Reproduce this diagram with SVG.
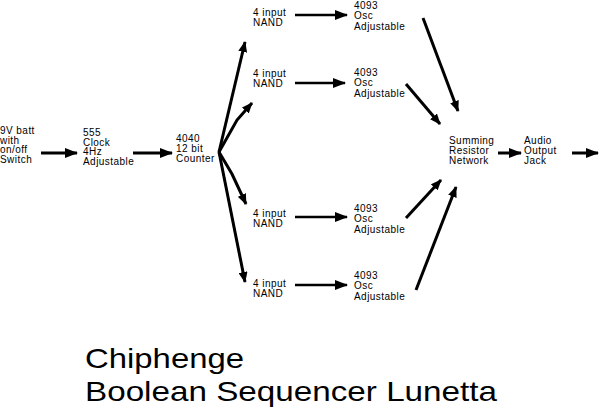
<svg xmlns="http://www.w3.org/2000/svg" width="600" height="414" viewBox="0 0 600 414">
<style>
text{font-family:"Liberation Sans",Arial,sans-serif;font-size:10px;letter-spacing:0.45px;fill:#000}
.t{font-size:28px;letter-spacing:0}
.c{stroke:#000;fill:none;stroke-width:3}
.n{stroke-width:2.5}
</style>
<defs>
<marker id="ah" markerUnits="userSpaceOnUse" markerWidth="13" markerHeight="10" refX="12" refY="5" orient="auto"><path d="M0,0 L13,5 L0,10 z" fill="#000"/></marker>
<marker id="as" markerUnits="userSpaceOnUse" markerWidth="11" markerHeight="9" refX="10" refY="4.5" orient="auto"><path d="M0,0 L11,4.5 L0,9 z" fill="#000"/></marker>
</defs>
<rect width="600" height="414" fill="#fff"/>
<g id="batt"><text x="0" y="134">9V batt</text><text x="0" y="143.5">with</text><text x="0" y="153">on/off</text><text x="0" y="162.5">Switch</text></g>
<g id="clock"><text x="83" y="136">555</text><text x="83" y="145.5">Clock</text><text x="83" y="155">4Hz</text><text x="83" y="164.5">Adjustable</text></g>
<g id="counter"><text x="176" y="142">4040</text><text x="176" y="152">12 bit</text><text x="176" y="162">Counter</text></g>
<g id="nand1"><text x="253" y="16">4 input</text><text x="253" y="25.5">NAND</text></g>
<g id="nand2"><text x="253" y="77">4 input</text><text x="253" y="86.5">NAND</text></g>
<g id="nand3"><text x="253" y="217">4 input</text><text x="253" y="226.5">NAND</text></g>
<g id="nand4"><text x="253" y="287">4 input</text><text x="253" y="296.5">NAND</text></g>
<g id="osc1"><text x="354" y="8.5">4093</text><text x="354" y="19">Osc</text><text x="354" y="29.5">Adjustable</text></g>
<g id="osc2"><text x="354" y="75.5">4093</text><text x="354" y="86">Osc</text><text x="354" y="96.5">Adjustable</text></g>
<g id="osc3"><text x="354" y="211.5">4093</text><text x="354" y="222">Osc</text><text x="354" y="232.5">Adjustable</text></g>
<g id="osc4"><text x="354" y="278.5">4093</text><text x="354" y="289">Osc</text><text x="354" y="299.5">Adjustable</text></g>
<g id="summing"><text x="449" y="144">Summing</text><text x="449" y="154">Resistor</text><text x="449" y="164">Network</text></g>
<g id="audio"><text x="524" y="144">Audio</text><text x="524" y="154">Output</text><text x="524" y="164">Jack</text></g>
<g id="title"><text class="t" x="85" y="368" textLength="159" lengthAdjust="spacingAndGlyphs">Chiphenge</text><text class="t" x="85" y="401" textLength="412" lengthAdjust="spacingAndGlyphs">Boolean Sequencer Lunetta</text></g>
<g id="connectors">
<line class="c" x1="41" y1="153" x2="77" y2="153" marker-end="url(#ah)"/>
<line class="c" x1="133" y1="153" x2="172" y2="153" marker-end="url(#ah)"/>
<line class="c" x1="219" y1="152" x2="245" y2="42" marker-end="url(#as)"/>
<polyline class="c" points="219,152 237,120 252,103" marker-end="url(#as)"/>
<polyline class="c" points="219,152 232,174 246,204" marker-end="url(#as)"/>
<line class="c" x1="219" y1="152" x2="245" y2="282" marker-end="url(#as)"/>
<line class="c n" x1="295" y1="15" x2="347" y2="15" marker-end="url(#ah)"/>
<line class="c n" x1="295" y1="83" x2="345" y2="83" marker-end="url(#ah)"/>
<line class="c n" x1="295" y1="217" x2="347" y2="217" marker-end="url(#ah)"/>
<line class="c n" x1="295" y1="285" x2="347" y2="285" marker-end="url(#ah)"/>
<line class="c" x1="423" y1="18" x2="458" y2="111" marker-end="url(#as)"/>
<line class="c" x1="406" y1="84" x2="440" y2="124" marker-end="url(#as)"/>
<line class="c" x1="406" y1="218" x2="441" y2="180" marker-end="url(#as)"/>
<line class="c" x1="416" y1="290" x2="456" y2="187" marker-end="url(#as)"/>
<line class="c" x1="498" y1="153" x2="521" y2="153" marker-end="url(#ah)"/>
<line class="c" x1="572" y1="153" x2="598" y2="153" marker-end="url(#ah)"/>
</g>
</svg>
